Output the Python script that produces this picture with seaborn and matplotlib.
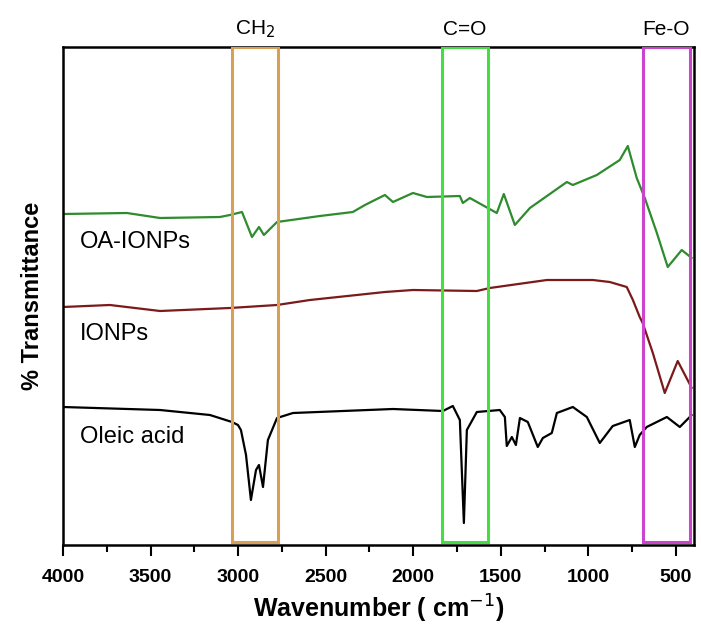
import numpy as np
import pandas as pd
import matplotlib
matplotlib.use("Agg")
import matplotlib.pyplot as plt
import matplotlib.transforms as mtransforms
from matplotlib.patches import Rectangle
import seaborn as sns

# ---- data (arbitrary transmittance units) ----
oa_wn = [4000, 3635, 3446, 3104, 3047, 2978, 2921, 2881, 2853, 2778, 2533, 2345, 2276, 2162, 2116,
         2002, 1922, 1734, 1717, 1677, 1523, 1483, 1420, 1334, 1123, 1089, 952, 821, 775, 724,
         678, 609, 547, 467, 410]
oa_t = [331, 332, 327, 328, 330, 333, 308, 318, 310, 323, 329, 333, 340, 350, 343,
        352, 348, 349, 342, 347, 332, 351, 320, 337, 363, 360, 370, 385, 399, 367,
        347, 312, 278, 295, 287]

ion_wn = [4000, 3732, 3446, 3047, 2778, 2590, 2162, 2002, 1637, 1563, 1237, 975, 878, 781, 746,
          707, 690, 632, 564, 490, 410]
ion_t = [238, 240, 234, 237, 240, 245, 253, 255, 254, 257, 265, 265, 263, 258, 245,
         228, 222, 192, 152, 184, 157]

ole_wn = [4000, 3446, 3161, 3035, 3001, 2984, 2955, 2927, 2898, 2881, 2858, 2830, 2778, 2687, 2116,
          1831, 1774, 1734, 1711, 1694, 1637, 1506, 1477, 1466, 1437, 1414, 1391, 1346, 1289, 1260,
          1209, 1180, 1089, 1009, 935, 861, 764, 735, 707, 667, 552, 478, 410]
ole_t = [138, 135, 130, 123, 120, 115, 90, 45, 75, 80, 58, 105, 127, 132, 136,
         134, 139, 125, 22, 115, 133, 135, 128, 99, 108, 100, 127, 123, 98, 107,
         112, 132, 138, 128, 102, 119, 125, 98, 110, 118, 128, 118, 130]

series_names = ["OA-IONPs", "IONPs", "Oleic acid"]
series_colors = ["#2E8B2E", "#7A1A1A", "#000000"]
label_pos_t = [303, 211, 108]

band_names = ["CH$_2$", "C=O", "Fe-O"]
band_lo = [2772, 1575, 421]
band_hi = [3035, 1836, 690]
band_colors = ["#D9A055", "#44DD44", "#CC44CC"]

xticks = [4000, 3500, 3000, 2500, 2000, 1500, 1000, 500]

# ---- plotting ----
sns.set_style("ticks")
plt.rcParams['font.family'] = ['Liberation Sans', 'DejaVu Sans']
plt.rcParams['text.color'] = 'black'
plt.rcParams['axes.labelcolor'] = 'black'
plt.rcParams['xtick.color'] = 'black'
plt.rcParams['ytick.color'] = 'black'

frames = []
for name, wn, t in zip(series_names, [oa_wn, ion_wn, ole_wn], [oa_t, ion_t, ole_t]):
    frames.append(pd.DataFrame({"wn": wn, "T": t, "sample": name}))
df = pd.concat(frames, ignore_index=True)

fig = plt.figure(figsize=(7.01, 6.28), dpi=100)
ax = fig.add_axes([63/701, 83/628, 631/701, 498/628])

sns.lineplot(data=df, x="wn", y="T", hue="sample", palette=dict(zip(series_names, series_colors)),
             sort=False, estimator=None, linewidth=1.6, legend=False, ax=ax)

ax.set_xlim(4000, 397)
ax.set_ylim(0, 498)
ax.set_xticks(xticks)
ax.set_xticks([3750, 3250, 2750, 2250, 1750, 1250, 750], minor=True)
ax.set_yticks([])
ax.tick_params(axis='x', which='major', direction='out', length=8, width=1.5, pad=9,
               labelsize=14, labelcolor='black')
ax.tick_params(axis='x', which='minor', direction='out', length=5, width=1.5)
for lab in ax.get_xticklabels():
    lab.set_fontweight('bold')
for s in ax.spines.values():
    s.set_linewidth(1.8)
    s.set_color('black')

ax.set_xlabel("Wavenumber ( cm$^{-1}$)", fontsize=18, fontweight='bold', labelpad=5,
              color='black')
ax.set_ylabel("% Transmittance", fontsize=17, fontweight='bold', labelpad=14, color='black')

trans = mtransforms.blended_transform_factory(ax.transData, ax.transAxes)
for name, lo, hi, col in zip(band_names, band_lo, band_hi, band_colors):
    ax.add_patch(Rectangle((hi, 0.006), lo - hi, 0.994, transform=trans, fill=False,
                           edgecolor=col, linewidth=2.2, zorder=3))
    ax.text((lo + hi) / 2, 1.036, name, transform=trans, ha='center', va='center',
            fontsize=15, color='black')

for name, ty in zip(series_names, label_pos_t):
    ax.text(3905, ty, name, ha='left', va='center', fontsize=17, color='black')

fig.savefig("out.png", dpi=100)
